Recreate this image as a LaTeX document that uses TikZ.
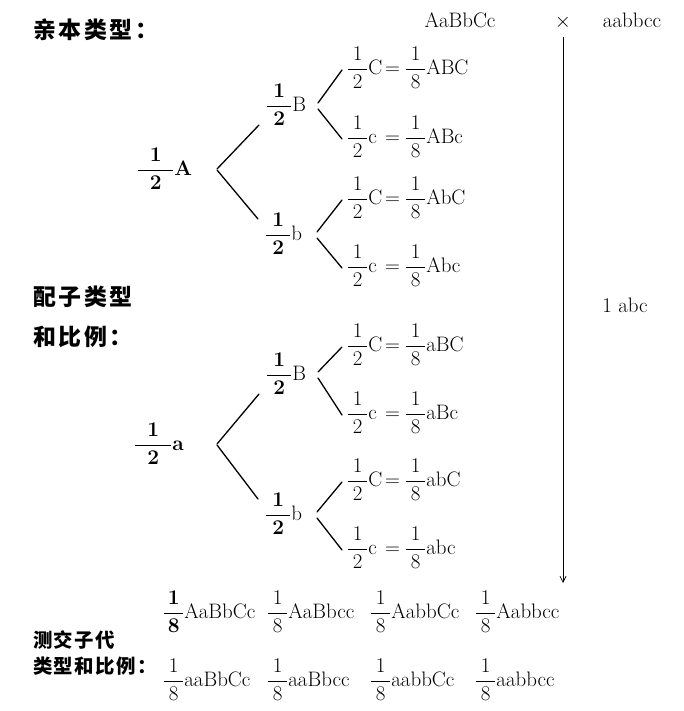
\documentclass[tikz,border=0pt]{standalone}
\usepackage{amsmath}
\usepackage{fontspec}
\usetikzlibrary{arrows.meta}
\newfontfamily\cjk{Noto Sans CJK SC}[LetterSpace=12]
\newfontfamily\cjknarrow{Noto Sans CJK SC}[LetterSpace=8]
\newcommand{\termfont}{\fontsize{21}{23}\selectfont}
\newcommand{\hanfont}{\fontsize{23}{26}\selectfont\cjk\bfseries}
\newcommand{\smallhanfont}{\fontsize{19.5}{22}\selectfont\cjknarrow\bfseries}
% fraction whose bar has a given length
\newcommand{\fr}[3][19bp]{\ensuremath{\dfrac{\hbox to #1{\hss#2\hss}}{\hbox to #1{\hss#3\hss}}}}
\newcommand{\leaf}[2]{\makebox[38bp][l]{\fr12#1}$=$\hspace{5bp}\fr18#2}
\tikzset{
  every node/.style={font=\termfont,inner sep=0pt,outer sep=0pt},
  heading/.style={font=\hanfont,anchor=west},
  subheading/.style={font=\smallhanfont,anchor=west},
  gamete/.style={anchor=west},
  branch/.style={line width=1.3bp,line cap=round},
  cross/.style={line width=.7bp,-{Straight Barb[length=6bp,width=6bp]}}
}
\begin{document}
\begin{tikzpicture}[x=1bp,y=-1bp]

\path[use as bounding box] (0,0) rectangle (684,711);
% parents and the test cross
\node[heading] (h1) at (33,30) {亲本类型：};
\node (p1) at (460,20) {AaBbCc};
\node (x) at (563,22) {$\times$};
\node (p2) at (632,20) {aabbcc};
\coordinate (xend) at (563,583);
\draw[cross] ([yshift=-8bp]x.south) -- (xend);
\node (abc) at (625,305) {1 abc};

\node[heading] (h2) at (33,297) {配子类型};
\node[heading] (h3) at (33,337) {和比例：};

% gamete tree
\node[gamete] (A) at (137,169) {\fr[35bp]{\textbf1}{\textbf2}\textbf{A}};
\node[gamete] (a) at (134,444) {\fr[36bp]{\textbf1}{\textbf2}\textbf{a}};
\node[gamete] (B1) at (266,105) {\fr[24bp]{\textbf1}{\textbf2}B};
\node[gamete] (b1) at (265,234) {\fr[24bp]{\textbf1}{\textbf2}b};
\node[gamete] (B2) at (266,374) {\fr[24bp]{\textbf1}{\textbf2}B};
\node[gamete] (b2) at (265,514) {\fr[24bp]{\textbf1}{\textbf2}b};

\foreach \name/\y/\g/\p in {l1/68/C/ABC,l2/137/c/ABc,l3/198/C/AbC,l4/266/c/Abc,
  l5/345/C/aBC,l6/413/c/aBc,l7/480/C/abC,l8/548/c/abc}
  \node[gamete] (\name) at (347,\y) {\leaf{\g}{\p}};

\foreach \root/\dx/\up/\dn in {A/80/B1/b1,a/83/B2/b2}{
  \draw[branch] ([shift={(\dx,0)}]\root.west) -- ([shift={(-7,20)}]\up.west);
  \draw[branch] ([shift={(\dx,1)}]\root.west) -- ([shift={(-7,-15)}]\dn.west);
}
\foreach \mid/\up/\dn in {B1/l1/l2,b1/l3/l4,B2/l5/l6,b2/l7/l8}{
  \draw[branch] ([shift={(52,-2)}]\mid.west) -- ([shift={(-5,2)}]\up.west);
  \draw[branch] ([shift={(52,4)}]\mid.west) -- ([shift={(-5,2)}]\dn.west);
}

% offspring of the test cross
\node[subheading] (h4) at (33,640) {测交子代};
\node[subheading] (h5) at (33,666) {类型和比例：};
\node[gamete] (o1) at (163,612) {\fr{\textbf1}{\textbf8}AaBbCc};
\node[gamete] (o2) at (267,612) {\fr18AaBbcc};
\node[gamete] (o3) at (370,612) {\fr18AabbCc};
\node[gamete] (o4) at (475,612) {\fr18Aabbcc};
\node[gamete] (o5) at (163,680) {\fr18aaBbCc};
\node[gamete] (o6) at (267,680) {\fr18aaBbcc};
\node[gamete] (o7) at (370,680) {\fr18aabbCc};
\node[gamete] (o8) at (475,680) {\fr18aabbcc};
\end{tikzpicture}
\end{document}
